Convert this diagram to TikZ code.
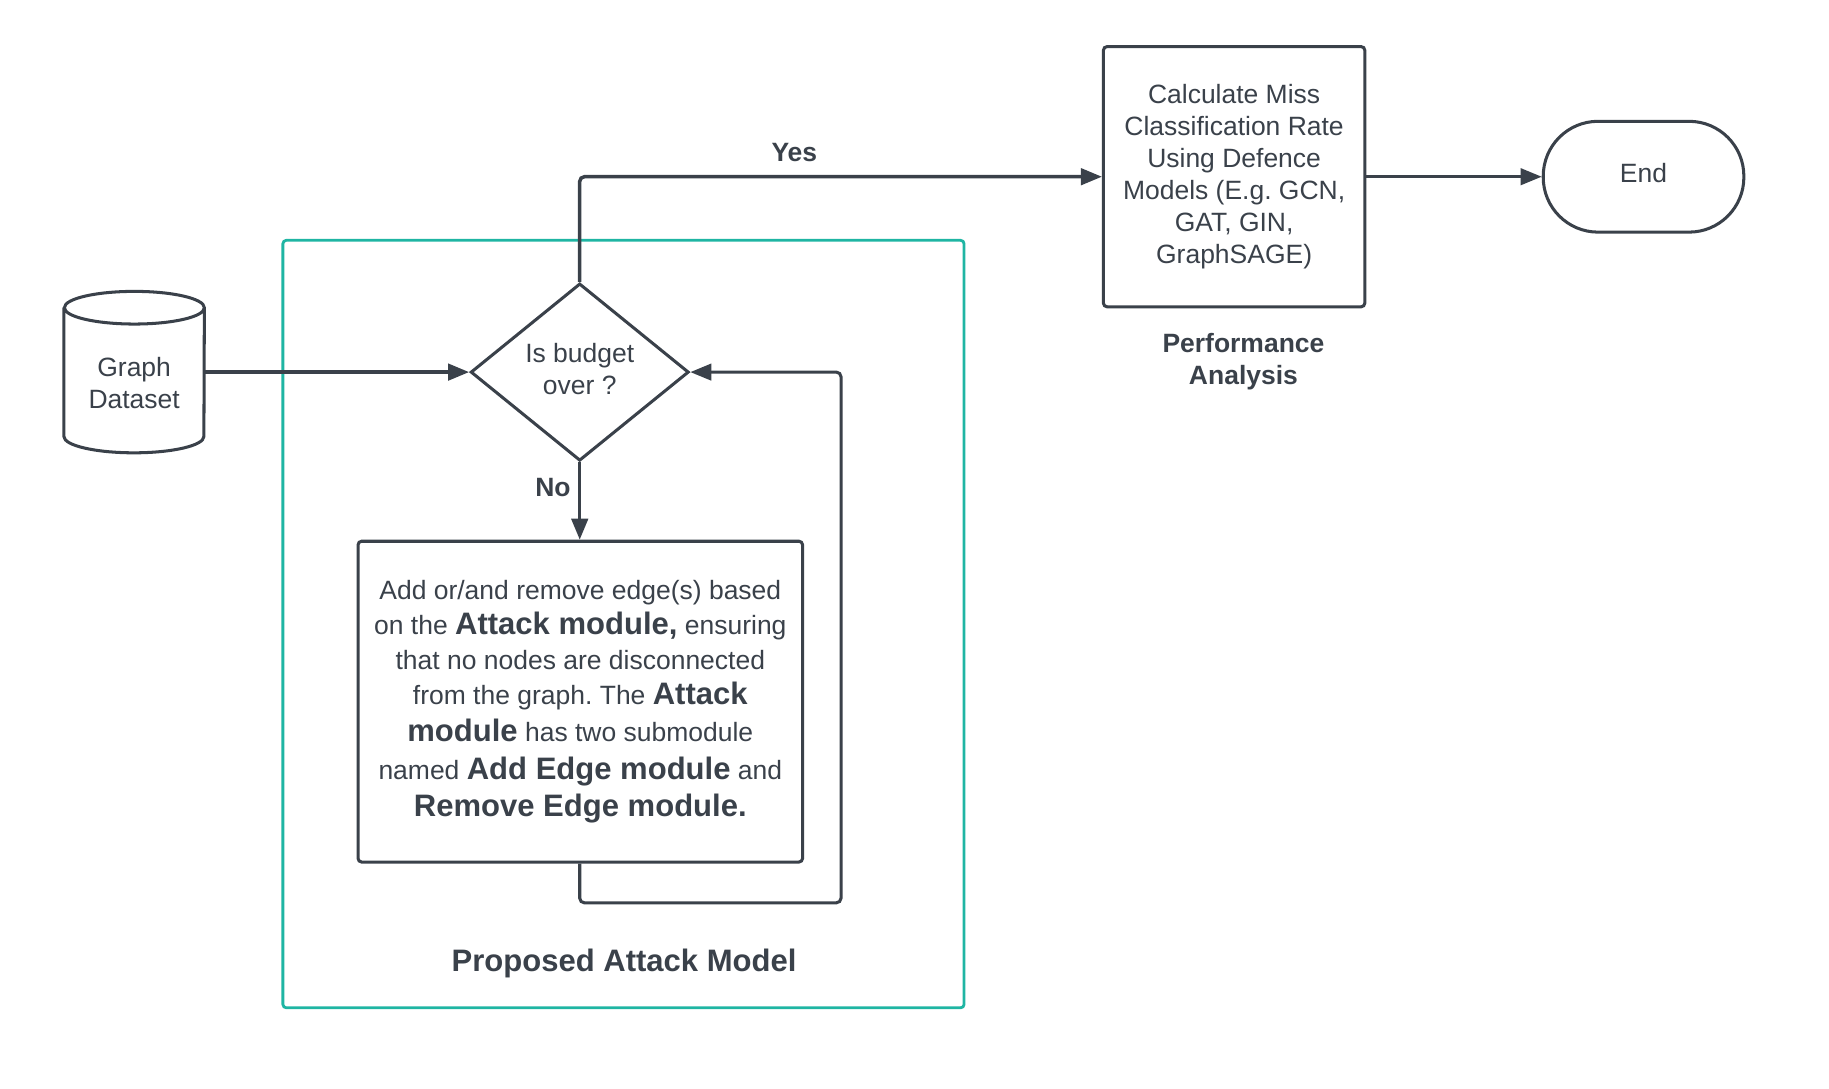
\documentclass[tikz,border=0pt]{standalone}
\usepackage{fontspec}
\setmainfont{Liberation Sans}
\usetikzlibrary{shapes.geometric,arrows.meta}
\definecolor{ink}{HTML}{3A414A}
\definecolor{tealframe}{HTML}{1FB5A3}
\newcommand\bigbold[1]{{\fontsize{26.6pt}{30pt}\selectfont\bfseries #1}}
\frenchspacing
\begin{document}
\begin{tikzpicture}[x=1pt,y=1pt,
  every node/.style={text=ink},
  base/.style={font=\fontsize{22.7pt}{27.4pt}\selectfont, align=center, inner sep=0pt},
  boxst/.style={base, draw=ink, line width=2.6pt, rounded corners=3pt},
  lbl/.style={font=\fontsize{22.7pt}{28pt}\selectfont\bfseries, align=center, inner sep=0pt},
  biglbl/.style={font=\fontsize{26.6pt}{30pt}\selectfont\bfseries, align=center, inner sep=0pt},
  cyl/.style={draw=ink, line width=2.6pt},
  arr/.style={draw=ink, line width=3pt, -{Triangle[length=18pt,width=14pt]}, rounded corners=4pt},
  loopline/.style={draw=ink, line width=2.6pt, -{Triangle[length=18pt,width=14pt]}, rounded corners=4pt},
  ]
\useasboundingbox (0,0) rectangle (1568,-933);

% container
\node[draw=tealframe, line width=2.4pt, rounded corners=3pt, minimum width=584pt, minimum height=658pt, inner sep=0pt] (frame) at (534.5,-535) {};
\node[biglbl] (pam) at (535,-826) {Proposed Attack Model};

% graph dataset cylinder
\node[base, minimum width=120pt, minimum height=110pt, text depth=9pt] (gd) at (115,-333) {Graph\\Dataset};
\draw[cyl] ([yshift=14pt]gd.north west) -- ([yshift=14pt]gd.south west)
  arc[start angle=180,end angle=360,x radius=60pt,y radius=14pt]
  -- ([yshift=14pt]gd.north east)
  arc[start angle=0,end angle=360,x radius=60pt,y radius=14pt];

% decision
\node[base, shape=diamond, draw=ink, line width=2.6pt, minimum width=187pt, minimum height=152pt, aspect=1.23, text depth=6pt] (dia) at (497,-319) {Is budget\\over ?};

% attack box
\node[boxst, minimum width=381pt, minimum height=275pt, font=\fontsize{22.7pt}{30pt}\selectfont] (box) at (497.5,-601.5)
{Add or/and remove edge(s) based\\
on the \bigbold{Attack module,} ensuring\\
that no nodes are disconnected\\
from the graph. The \bigbold{Attack}\\[2pt]
\bigbold{module} has two submodule\\[2pt]
named \bigbold{Add Edge module} and\\[2pt]
\bigbold{Remove Edge module.}};

% performance box
\node[boxst, minimum width=224pt, minimum height=223pt] (calc) at (1058,-151.5)
{Calculate Miss\\Classification Rate\\Using Defence\\Models (E.g. GCN,\\GAT, GIN,\\GraphSAGE)};
\node[lbl] (perf) at (1066,-310) {Performance\\Analysis};

% end
\node[boxst, rounded corners=47pt, minimum width=172pt, minimum height=95pt, text depth=6pt] (end) at (1409,-151.5) {End};

% connectors
\coordinate (loopc) at (721,-774);
\draw[arr] (gd.east |- dia.west) -- (dia.west);
\draw[arr] (dia.north) |- (calc.west);
\node[lbl] (yes) at (681,-131) {Yes};
\draw[arr] (dia.south) -- (dia.south |- box.north);
\node[lbl] (no) at (474,-418) {No};
\draw[loopline] (dia.south |- box.south) |- (loopc) |- (dia.east);
\draw[loopline] (calc.east) -- (end.west);
\end{tikzpicture}
\end{document}
